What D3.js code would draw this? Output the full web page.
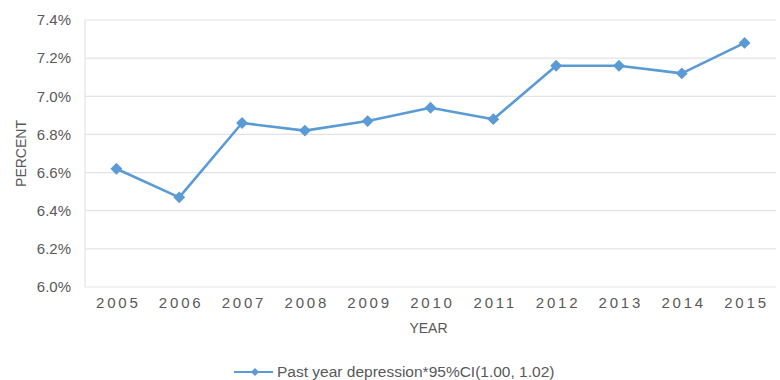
<!DOCTYPE html>
<html>
<head>
<meta charset="utf-8">
<script src="https://cdn.jsdelivr.net/npm/d3@7"></script>
<style>
  html, body { margin: 0; padding: 0; background: #fff; }
  svg { display: block; font-family: "Liberation Sans", Arial, sans-serif; }
</style>
</head>
<body>
<svg id="chart" width="780" height="380"></svg>
<script>
// Past-year depression prevalence by survey year
const years = ["2005", "2006", "2007", "2008", "2009", "2010", "2011", "2012", "2013", "2014", "2015"];
const depression = [6.62, 6.47, 6.86, 6.82, 6.87, 6.94, 6.88, 7.16, 7.16, 7.12, 7.28];
const yTicks = [6.0, 6.2, 6.4, 6.6, 6.8, 7.0, 7.2, 7.4];
const seriesName = "Past year depression*95%CI(1.00, 1.02)";

const svg = d3.select("#chart");
const plot = { left: 85, right: 776, top: 20, bottom: 287 };

const x = d3.scalePoint()
  .domain(years)
  .range([plot.left, plot.right])
  .padding(0.5);

const y = d3.scaleLinear()
  .domain([6.0, 7.4])
  .range([plot.bottom, plot.top]);

const textColor = "#595959";
const lineColor = "#5B9BD5";

// horizontal gridlines
svg.append("g")
  .selectAll("line")
  .data(yTicks)
  .join("line")
  .attr("x1", plot.left)
  .attr("x2", plot.right)
  .attr("y1", d => y(d))
  .attr("y2", d => y(d))
  .attr("stroke", "#e3e3e3")
  .attr("stroke-width", 1.2);

// left edge of plot area
svg.append("line")
  .attr("x1", plot.left).attr("x2", plot.left)
  .attr("y1", plot.top).attr("y2", plot.bottom)
  .attr("stroke", "#e3e3e3")
  .attr("stroke-width", 1.2);

// y axis labels
const yAxis = d3.axisLeft(y)
  .tickValues(yTicks)
  .tickFormat(d => d.toFixed(1) + "%")
  .tickSize(0)
  .tickPadding(14);
const gy = svg.append("g")
  .attr("transform", `translate(${plot.left},0)`)
  .call(yAxis);
gy.select(".domain").remove();
gy.selectAll("text")
  .attr("fill", textColor)
  .style("font-size", "15px");

// x axis labels (spaced-out digits; dx re-centres for the trailing gap)
const xAxis = d3.axisBottom(x).tickSize(0).tickPadding(9);
const gx = svg.append("g")
  .attr("transform", `translate(0,${plot.bottom})`)
  .call(xAxis);
gx.select(".domain").remove();
gx.selectAll("text")
  .attr("fill", textColor)
  .attr("dx", "1.4px")
  .attr("dy", "0.78em")
  .style("font-size", "15px")
  .style("letter-spacing", "2.8px");

// axis titles
svg.append("text")
  .attr("x", (plot.left + plot.right) / 2 - 2)
  .attr("y", 333)
  .attr("text-anchor", "middle")
  .attr("fill", textColor)
  .style("font-size", "14px")
  .text("YEAR");

svg.append("text")
  .attr("transform", `translate(26,${(plot.top + plot.bottom) / 2}) rotate(-90)`)
  .attr("text-anchor", "middle")
  .attr("fill", textColor)
  .style("font-size", "14px")
  .text("PERCENT");

// data line
const line = d3.line()
  .x((d, i) => x(years[i]))
  .y(d => y(d));

svg.append("path")
  .datum(depression)
  .attr("d", line)
  .attr("fill", "none")
  .attr("stroke", lineColor)
  .attr("stroke-width", 2.6)
  .attr("stroke-linejoin", "round");

// diamond markers
const diamond = d3.symbol().type(d3.symbolDiamond2).size(90);
svg.append("g")
  .selectAll("path")
  .data(depression)
  .join("path")
  .attr("d", diamond)
  .attr("transform", (d, i) => `translate(${x(years[i])},${y(d)})`)
  .attr("fill", lineColor);

// legend
const legend = svg.append("g").attr("transform", "translate(234,372)");
legend.append("line")
  .attr("x1", 0).attr("x2", 39)
  .attr("stroke", lineColor)
  .attr("stroke-width", 2.2);
legend.append("path")
  .attr("d", d3.symbol().type(d3.symbolDiamond2).size(40))
  .attr("transform", "translate(21,0)")
  .attr("fill", lineColor);
legend.append("text")
  .attr("x", 43)
  .attr("dy", "0.35em")
  .attr("fill", textColor)
  .style("font-size", "15.5px")
  .text(seriesName);
</script>
</body>
</html>
